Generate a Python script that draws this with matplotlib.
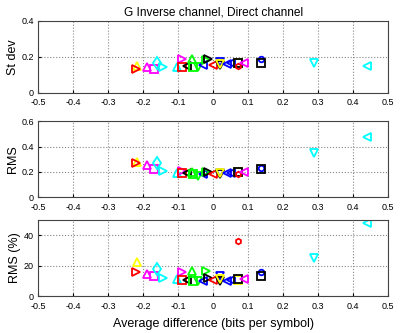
import matplotlib.pyplot as plt

plt.rcParams['font.family'] = ['Liberation Sans', 'DejaVu Sans']

# one entry per point: colour, marker, average difference, st dev, RMS, RMS (%)
colors = ['y', 'r', 'm', 'm', 'c', 'c', 'c', 'm', 'r', 'k',
          'g', 'g', 'g', 'b', 'g', 'k', 'r', 'b', 'k', 'y',
          'b', 'b', 'y', 'k', 'r', 'm', 'b', 'k', 'c', 'c']
markers = ['^', '>', '^', 's', 'd', '>', '^', '>', 's', '<',
           '^', 's', 'v', '<', '>', '>', '<', 'v', 'v', 'v',
           '<', '<', 's', 's', 'h', '<', 'o', 's', 'v', '<']
avg_diff = [-0.218, -0.22, -0.19, -0.17, -0.16, -0.142, -0.104, -0.09, -0.09, -0.075,
            -0.06, -0.058, -0.042, -0.03, -0.021, -0.014, 0.0, 0.02, 0.02, 0.02,
            0.04, 0.052, 0.07, 0.07, 0.071, 0.088, 0.137, 0.137, 0.289, 0.439]
st_dev = [0.15, 0.132, 0.146, 0.133, 0.168, 0.143, 0.146, 0.187, 0.146, 0.15,
          0.187, 0.146, 0.146, 0.156, 0.183, 0.187, 0.156, 0.17, 0.156, 0.163,
          0.16, 0.165, 0.165, 0.168, 0.15, 0.165, 0.187, 0.165, 0.168, 0.15]
rms = [0.28, 0.266, 0.252, 0.226, 0.266, 0.208, 0.19, 0.21, 0.187, 0.19,
       0.2, 0.18, 0.166, 0.18, 0.2, 0.2, 0.18, 0.19, 0.185, 0.19,
       0.19, 0.19, 0.195, 0.195, 0.18, 0.2, 0.23, 0.225, 0.35, 0.476]
rms_pct = [22.2, 15.6, 14.5, 13.2, 17.5, 11.6, 11.0, 15.6, 10.5, 10.5,
           16.7, 9.6, 9.6, 10.0, 16.7, 12.0, 10.5, 13.4, 9.6, 11.5,
           10.0, 10.5, 10.5, 11.0, 36.4, 11.0, 16.0, 13.2, 24.8, 47.8]

# MATLAB-style pure colours
rgb = {'y': (1, 1, 0), 'r': (1, 0, 0), 'm': (1, 0, 1), 'c': (0, 1, 1),
       'g': (0, 1, 0), 'b': (0, 0, 1), 'k': (0, 0, 0)}

panels = [
    (st_dev, 'St dev', (0, 0.4), [0, 0.2, 0.4], ['0', '0.2', '0.4']),
    (rms, 'RMS', (0, 0.6), [0, 0.2, 0.4, 0.6], ['0', '0.2', '0.4', '0.6']),
    (rms_pct, 'RMS (%)', (0, 50), [0, 20, 40], ['0', '20', '40']),
]
boxes = [[0.095, 0.721, 0.873, 0.216],
         [0.095, 0.408, 0.873, 0.228],
         [0.095, 0.111, 0.873, 0.228]]
xticks = [-0.5, -0.4, -0.3, -0.2, -0.1, 0, 0.1, 0.2, 0.3, 0.4, 0.5]
xlabels = ['-0.5', '-0.4', '-0.3', '-0.2', '-0.1', '0', '0.1', '0.2', '0.3', '0.4', '0.5']

fig = plt.figure(figsize=(4.01, 3.33), dpi=100)
for (vals, label, ylim, yt, ytl), box in zip(panels, boxes):
    ax = fig.add_axes(box)
    for c, m, x, y in zip(colors, markers, avg_diff, vals):
        ms = 4 if m in ('h', 'o') else 6.3
        ax.plot(x, y, linestyle='none', marker=m, color=rgb[c], mfc='none',
                ms=ms, mew=1.3)
    ax.set_xlim(-0.5, 0.5)
    ax.set_ylim(*ylim)
    ax.set_xticks(xticks)
    ax.set_xticklabels(xlabels)
    ax.set_yticks(yt)
    ax.set_yticklabels(ytl)
    ax.grid(True, linestyle=':', color='#888888', linewidth=0.8)
    ax.tick_params(direction='in', labelsize=6.5, length=2.5)
    ax.tick_params(axis='x', pad=4)
    ax.tick_params(axis='y', pad=3)
    ax.set_ylabel(label, fontsize=9, labelpad=2)
    for s in ax.spines.values():
        s.set_color('#444444')
    if label == 'St dev':
        ax.set_title('G Inverse channel, Direct channel', fontsize=8.6, pad=4)
    if label == 'RMS (%)':
        ax.set_xlabel('Average difference (bits per symbol)', fontsize=9, labelpad=5)

fig.savefig('out.png', dpi=100)
